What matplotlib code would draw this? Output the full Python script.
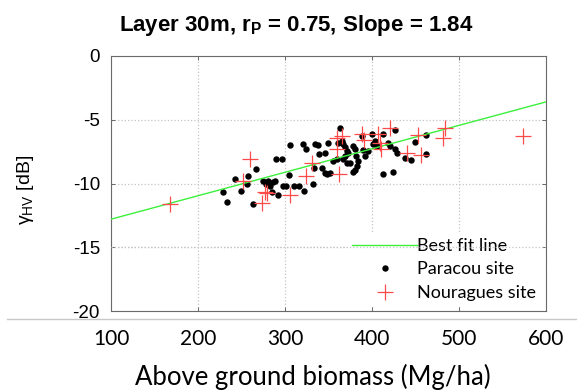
import matplotlib
matplotlib.use("Agg")
import matplotlib.pyplot as plt
from matplotlib.lines import Line2D

plt.rcParams['mathtext.fontset'] = 'custom'
plt.rcParams['mathtext.rm'] = 'Liberation Sans'
plt.rcParams['mathtext.it'] = 'Liberation Sans:italic'
plt.rcParams['mathtext.bf'] = 'Liberation Sans:bold'

# ---------------- data ----------------
paracou_agb = [228.7, 233.3, 242.5, 249.4, 256.3, 257.5, 263.2, 266.7, 274.7, 278.2,
               280.5, 282.8, 286.2, 288.5, 285.1, 292.0, 289.7, 296.6, 297.7, 301.1,
               304.6, 305.7, 310.3, 316.1, 321.8, 320.7, 324.1, 332.2, 333.3, 334.5,
               337.9, 339.1, 346.0, 349.4, 342.5, 346.0, 348.3, 351.7, 355.2, 359.8,
               366.7, 363.2, 365.5, 369.0, 371.3, 360.9, 366.7, 369.0, 371.3, 372.4,
               374.7, 378.2, 380.5, 381.6, 383.9, 382.8, 380.5, 378.2, 388.5, 389.7,
               392.0, 395.4, 400.0, 403.4, 401.1, 405.7, 412.6, 412.6, 424.1, 418.4,
               420.7, 426.4, 426.4, 428.7, 437.9, 444.8, 449.4, 462.1, 462.1]
paracou_hv = [-10.63, -11.48, -9.61, -10.55, -10.00, -9.45, -11.64, -8.83, -9.84, -10.00,
              -9.84, -10.23, -9.92, -9.84, -10.70, -10.94, -8.05, -8.05, -10.23, -10.16,
              -9.30, -6.95, -10.16, -10.16, -10.55, -6.88, -7.27, -10.00, -8.75, -6.88,
              -6.95, -7.66, -7.58, -6.80, -8.75, -9.14, -9.22, -9.14, -8.20, -8.05,
              -8.05, -5.63, -6.64, -7.81, -8.36, -6.80, -6.88, -7.11, -7.42, -7.58,
              -8.36, -7.03, -7.27, -7.81, -8.20, -8.59, -8.91, -9.06, -6.25, -7.34,
              -7.81, -7.42, -6.09, -6.64, -6.88, -7.03, -6.09, -9.22, -9.06, -6.80,
              -7.03, -5.78, -7.27, -7.58, -7.97, -8.13, -6.72, -6.17, -7.66]

nouragues_agb = [167.8, 259.8, 251.7, 273.6, 277.0, 279.3, 305.7, 324.1, 331.0, 359.8,
                 359.8, 362.1, 365.5, 388.5, 390.8, 406.9, 409.2, 410.3, 420.7, 440.2,
                 452.9, 456.3, 483.9, 481.6, 573.6]
nouragues_hv = [-11.64, -8.05, -9.84, -11.56, -10.63, -10.78, -10.94, -9.38, -8.36, -6.41,
                -7.27, -9.22, -6.25, -6.09, -6.56, -6.09, -6.80, -7.27, -5.63, -7.58,
                -6.17, -7.73, -5.63, -6.41, -6.25]

fit_agb = [100, 600]
fit_hv = [-12.8, -3.6]

x_ticks = [100, 200, 300, 400, 500, 600]
x_ticklabels = ['100', '200', '300', '400', '500', '600']
y_ticks = [0, -5, -10, -15, -20]
y_ticklabels = ['0', '-5', '-10', '-15', '-20']

title = r'Layer 30m, r$_\mathbf{P}$ = 0.75, Slope = 1.84'
xlabel = 'Above ground biomass (Mg/ha)'
ylabel = r'$\mathrm{\gamma_{HV}}$ [dB]'
legend_labels = ['Best fit line', 'Paracou site', 'Nouragues site']

# ---------------- figure ----------------
W, H = 577, 392
fig = plt.figure(figsize=(W / 100, H / 100), dpi=100)
ax = fig.add_axes([111 / W, 1 - 311 / H, 435 / W, 255 / H])

ax.plot(paracou_agb, paracou_hv, 'o', color='black', ms=4.6, mew=0, zorder=3,
        label=legend_labels[1])
ax.plot(fit_agb, fit_hv, '-', color='#3cf03c', lw=1.0, zorder=4,
        label=legend_labels[0])
ax.plot(nouragues_agb, nouragues_hv, '+', color='#ff4a4a', ms=11.5, mew=0.9, zorder=5,
        label=legend_labels[2])

ax.set_xlim(100, 600)
ax.set_ylim(-20, 0)
ax.set_xticks(x_ticks)
ax.set_xticklabels(x_ticklabels, family='Lato', fontsize=15)
ax.set_yticks(y_ticks)
ax.set_yticklabels(y_ticklabels, family='Liberation Sans', fontsize=13.5)
ax.tick_params(axis='both', direction='in', length=3, width=0.6, color='#555555',
               top=True, right=True)
ax.tick_params(axis='x', pad=13)
ax.tick_params(axis='y', pad=8)

ax.grid(True, linestyle=':', color='#c4c4c4', lw=0.9)
for s in ax.spines.values():
    s.set_color('#6a6a6a')
    s.set_linewidth(0.8)

ax.set_xlabel(xlabel, family='Lato', fontsize=18.5)
ax.xaxis.set_label_coords((313 - 111) / 435, -(377 - 311) / 255)
ax.xaxis.label.set_va('center')
ax.set_ylabel(ylabel, family='Liberation Sans', fontsize=14)
ax.yaxis.set_label_coords(-(111 - 26) / 435, (311 - 190) / 255)
ax.yaxis.label.set_va('center')

fig.text(296 / W, 1 - 25 / H, title, ha='center', va='center',
         family='Liberation Sans', fontweight='bold', fontsize=16)

handles, labels = ax.get_legend_handles_labels()
order = [labels.index(l) for l in legend_labels]
leg = ax.legend([handles[i] for i in order], [labels[i] for i in order],
                loc='lower right', bbox_to_anchor=(1.0, 0.0), borderaxespad=0.25,
                prop={'family': 'Lato', 'size': 13}, handlelength=3.6,
                handletextpad=0.0, labelspacing=0.42, frameon=True,
                fancybox=False, framealpha=1, borderpad=0.3)
leg.get_frame().set_edgecolor('none')
leg.set_zorder(6)

# horizontal gridline at -15 seen through legend
ax.axhline(-15, linestyle=':', color='#c4c4c4', lw=0.9, zorder=7)

# grey separator line under the axes
fig.add_artist(Line2D([7 / W, 1.0], [1 - 319 / H, 1 - 319 / H],
                      transform=fig.transFigure, color='#c8c8c8', lw=1.0))

fig.savefig('out.png', dpi=100)
